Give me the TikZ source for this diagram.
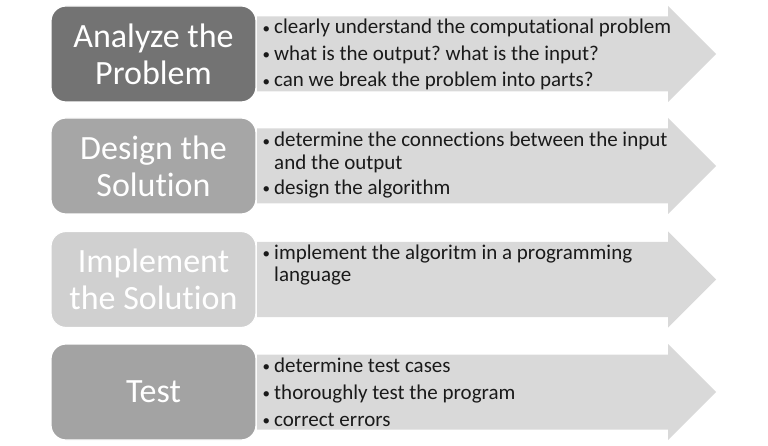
\documentclass[tikz,border=0pt]{standalone}
\usepackage{fontspec}
\setmainfont{Carlito}[Ligatures=NoCommon]
\frenchspacing
\definecolor{boxA}{HTML}{737373}
\definecolor{boxB}{HTML}{A6A6A6}
\definecolor{boxC}{HTML}{D0D0D0}
\definecolor{boxD}{HTML}{A3A3A3}
\definecolor{arrowgray}{HTML}{D9D9D9}
\definecolor{txt}{HTML}{1A1A1A}
\newcommand{\bul}{\hbox to 11.5pt{\raisebox{0.5pt}{\fontsize{15}{15}\selectfont\char"2022}\hss}}
\tikzset{
  stagebox/.style={draw=white, line width=1.2pt, rounded corners=15pt, minimum width=205pt, minimum height=96pt,
    inner sep=0pt, text=white, align=center, font=\fontsize{34}{37.3}\selectfont},
  bodytext/.style={anchor=base west, inner sep=0pt, text=txt, font=\fontsize{21}{22.6}\selectfont},
  arrowshape/.style={fill=arrowgray}
}
\begin{document}
\begin{tikzpicture}[x=1pt,y=-1pt]
\useasboundingbox (0,0) rectangle (768,446);
% arrows
\foreach \c in {54,166,279.5,392}{
  \path[arrowshape] (257,\c-37.5) -- (668,\c-37.5) -- (668,\c-48) -- (716,\c) -- (668,\c+48) -- (668,\c+37.5) -- (257,\c+37.5) -- cycle;
}
% stage boxes
\node[stagebox, fill=boxA] (s1) at (153.5,54) {Analyze the\\Problem};
\node[stagebox, fill=boxB] (s2) at (153.5,166) {Design the\\Solution};
\node[stagebox, fill=boxC] (s3) at (153.5,279.5) {Implement\\the Solution};
\node[stagebox, fill=boxD] (s4) at (153.5,392) {Test};
% row 1
\node[bodytext] (a1) at (262.5,34) {\bul clearly understand the computational problem};
\node[bodytext] (a2) at (262.5,60.5) {\bul what is the output? what is the input?};
\node[bodytext] (a3) at (262.5,87) {\bul can we break the problem into parts?};
% row 2
\node[bodytext] (b1) at (262.5,146.7) {\bul determine the connections between the input};
\node[bodytext] (b2) at (274,169.3) {and the output};
\node[bodytext] (b3) at (262.5,194.3) {\bul design the algorithm};
% row 3
\node[bodytext] (c1) at (262.5,259.5) {\bul implement the algoritm in a programming};
\node[bodytext] (c2) at (274,282) {language};
% row 4
\node[bodytext] (d1) at (262.5,372.3) {\bul determine test cases};
\node[bodytext] (d2) at (262.5,399) {\bul thoroughly test the program};
\node[bodytext] (d3) at (262.5,426) {\bul correct errors};
\end{tikzpicture}
\end{document}
